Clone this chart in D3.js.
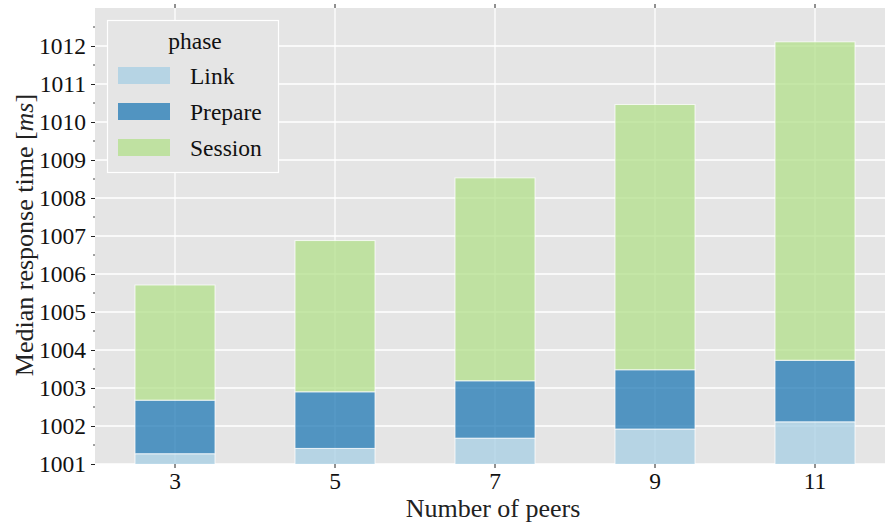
<!DOCTYPE html>
<html>
<head>
<meta charset="utf-8">
<script src="https://cdn.jsdelivr.net/npm/d3@7"></script>
<style>
  html, body { margin: 0; padding: 0; background: #fff; }
  svg { display: block; font-family: "Liberation Serif", "DejaVu Serif", serif; }
</style>
</head>
<body>
<svg id="chart" width="885" height="527"></svg>
<script>
// Number of peers in the network
const peers = [3, 5, 7, 9, 11];
// Median response time per phase (ms); phases are stacked on top of each other
const linkTime    = [1001.27, 1001.41, 1001.68, 1001.92, 1002.11];
const prepareTime = [1.41, 1.49, 1.51, 1.56, 1.62];
const sessionTime = [3.03, 3.98, 5.34, 6.98, 8.38];
const phases = ["Link", "Prepare", "Session"];
const phaseColors = ["#a6cee3", "#1f78b4", "#b2df8a"];
const yTicks = [1001, 1002, 1003, 1004, 1005, 1006, 1007, 1008, 1009, 1010, 1011, 1012];
const yDomain = [1001, 1013];

const rows = peers.map((p, i) => ({
  peers: p, Link: linkTime[i], Prepare: prepareTime[i], Session: sessionTime[i]
}));

const svg = d3.select("#chart");
const plot = { left: 95, top: 8, width: 800, height: 456 };

const x = d3.scaleBand()
  .domain(peers)
  .range([plot.left, plot.left + plot.width])
  .paddingInner(0.5)
  .paddingOuter(0.25);
const y = d3.scaleLinear()
  .domain(yDomain)
  .range([plot.top + plot.height, plot.top]);
const color = d3.scaleOrdinal().domain(phases).range(phaseColors);

svg.append("defs").append("clipPath").attr("id", "plotClip")
  .append("rect")
  .attr("x", plot.left).attr("y", plot.top)
  .attr("width", plot.width).attr("height", plot.height);

// panel background
svg.append("rect")
  .attr("x", plot.left).attr("y", plot.top)
  .attr("width", plot.width).attr("height", plot.height)
  .attr("fill", "#e5e5e5");

// grid lines
const grid = svg.append("g").attr("clip-path", "url(#plotClip)");
grid.selectAll("line.h").data(yTicks).join("line")
  .attr("class", "h")
  .attr("x1", plot.left).attr("x2", plot.left + plot.width)
  .attr("y1", d => y(d)).attr("y2", d => y(d))
  .attr("stroke", "#fff").attr("stroke-width", 1.4);
grid.selectAll("line.v").data(peers).join("line")
  .attr("class", "v")
  .attr("x1", d => x(d) + x.bandwidth() / 2).attr("x2", d => x(d) + x.bandwidth() / 2)
  .attr("y1", plot.top).attr("y2", plot.top + plot.height)
  .attr("stroke", "#fff").attr("stroke-width", 1.2);

// stacked bars
const stacked = d3.stack().keys(phases)(rows);
const bars = svg.append("g").attr("clip-path", "url(#plotClip)");
bars.selectAll("g").data(stacked).join("g")
  .attr("fill", d => color(d.key))
  .attr("fill-opacity", 0.75)
  .selectAll("rect").data(d => d).join("rect")
  .attr("x", d => x(d.data.peers))
  .attr("width", x.bandwidth())
  .attr("y", d => y(d[1]))
  .attr("height", d => y(d[0]) - y(d[1]))
  .attr("stroke", "#fff")
  .attr("stroke-opacity", 0.75)
  .attr("stroke-width", 1);

// y axis
const yAxis = svg.append("g")
  .attr("transform", `translate(${plot.left},0)`)
  .call(d3.axisLeft(y).tickValues(yTicks).tickFormat(d3.format("d")).tickSize(4).tickPadding(5));
yAxis.select(".domain").remove();
yAxis.selectAll(".tick line").attr("stroke", "#222").attr("stroke-width", 1);
yAxis.selectAll(".tick text")
  .attr("fill", "#111").style("font-size", "23.5px")
  .style("font-family", "'Liberation Serif', serif");

// minor y ticks
const minor = d3.range(yDomain[0] + 0.5, yDomain[1], 1);
svg.append("g").selectAll("line").data(minor).join("line")
  .attr("x1", plot.left - 2).attr("x2", plot.left)
  .attr("y1", d => y(d)).attr("y2", d => y(d))
  .attr("stroke", "#444").attr("stroke-width", 1);

// x axis (bottom labels, ticks on both edges)
const xAxis = svg.append("g")
  .attr("transform", `translate(0,${plot.top + plot.height})`)
  .call(d3.axisBottom(x).tickSize(4).tickPadding(4));
xAxis.select(".domain").remove();
xAxis.selectAll(".tick line").attr("stroke", "#222").attr("stroke-width", 1);
xAxis.selectAll(".tick text")
  .attr("fill", "#111").style("font-size", "23.5px")
  .style("font-family", "'Liberation Serif', serif");

const xTop = svg.append("g")
  .attr("transform", `translate(0,${plot.top})`)
  .call(d3.axisTop(x).tickSize(4).tickFormat(""));
xTop.select(".domain").remove();
xTop.selectAll(".tick line").attr("stroke", "#222").attr("stroke-width", 1);

// axis titles
svg.append("text")
  .attr("x", 493).attr("y", 517)
  .attr("text-anchor", "middle")
  .attr("fill", "#222")
  .style("font-size", "26px")
  .text("Number of peers");

const yLabel = svg.append("text")
  .attr("transform", "translate(33,235) rotate(-90)")
  .attr("text-anchor", "middle")
  .attr("fill", "#222")
  .style("font-size", "26px");
yLabel.append("tspan").text("Median response time [");
yLabel.append("tspan").style("font-style", "italic").text("ms");
yLabel.append("tspan").text("]");

// legend
const legend = svg.append("g");
legend.append("rect")
  .attr("x", 107.5).attr("y", 20.5)
  .attr("width", 171).attr("height", 152)
  .attr("fill", "#e5e5e5")
  .attr("stroke", "#fff").attr("stroke-width", 1.2);
legend.append("text")
  .attr("x", 195).attr("y", 49)
  .attr("text-anchor", "middle")
  .attr("fill", "#111")
  .style("font-size", "23.5px")
  .text("phase");
const entries = legend.selectAll("g.entry").data(phases).join("g")
  .attr("class", "entry")
  .attr("transform", (d, i) => `translate(0,${i * 36})`);
entries.append("rect")
  .attr("x", 118).attr("y", 67)
  .attr("width", 52).attr("height", 17)
  .attr("fill", d => color(d)).attr("fill-opacity", 0.75);
entries.append("text")
  .attr("x", 190).attr("y", 84)
  .attr("fill", "#111")
  .style("font-size", "23.5px")
  .text(d => d);
</script>
</body>
</html>
